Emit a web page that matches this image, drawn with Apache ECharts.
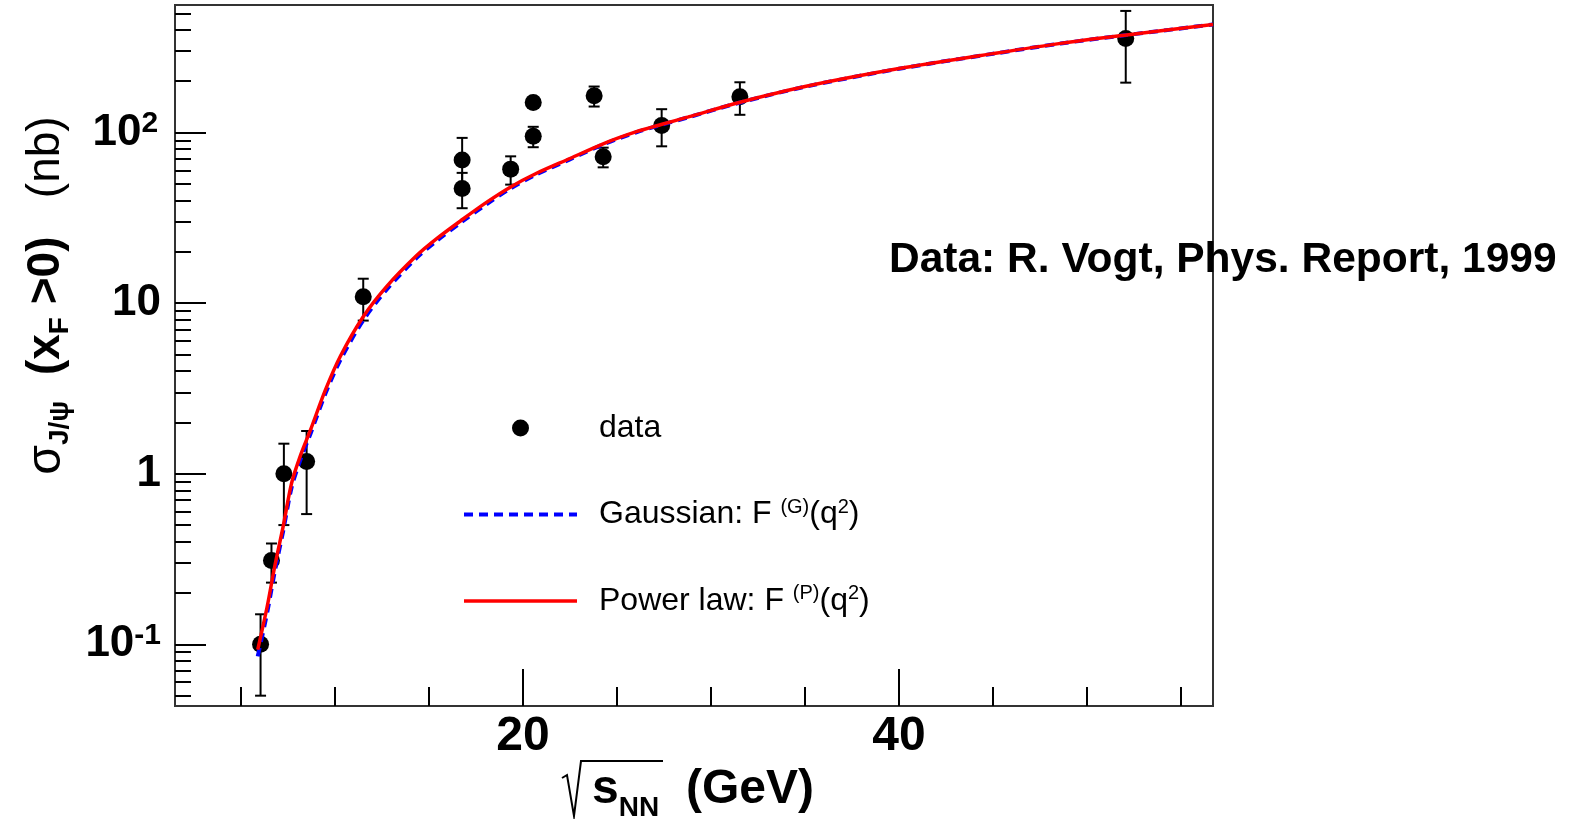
<!DOCTYPE html>
<html><head><meta charset="utf-8">
<script src="https://cdn.jsdelivr.net/npm/echarts@6/dist/echarts.min.js"></script>
<style>html,body{margin:0;padding:0;background:#fff}#c{width:1576px;height:819px}</style>
</head><body><div id="c"></div>
<script>
// ---- data ----
const dataX   = [6.05, 6.63, 7.29, 8.5, 11.51, 16.77, 16.77, 19.35, 20.55, 20.55, 23.79, 24.27, 27.38, 31.54, 52.06];
const dataY   = [0.1, 0.31, 1.0, 1.18, 10.9, 69, 47, 61, 150, 95, 164, 72, 110, 162, 356];
const dataErr = [0.05, 0.08, 0.5, 0.6, 3, 24, 11, 11.5, 10, 13, 22, 9.5, 27, 35, 160];
const curveX   = [5.9, 6.4, 6.8, 7.25, 7.7, 8.15, 8.7, 9.5, 10.3, 11.5, 12.75, 14.35, 15.4, 16.8, 18.1, 19.35, 20.7, 22.5, 24.3, 26.0, 27.4, 28.8, 31.5, 35, 40, 45, 48.6, 52, 56.7];
const powerLaw = [0.093, 0.166, 0.285, 0.49, 0.88, 1.26, 1.8, 3.1, 4.9, 8.3, 12.5, 19.0, 23.8, 31.0, 39.2, 48.0, 57.5, 70.4, 86.2, 100.8, 111.8, 123.4, 150, 186, 237, 290, 333, 372, 430];
const gaussian = [0.085, 0.153, 0.265, 0.46, 0.83, 1.19, 1.71, 2.95, 4.65, 7.9, 12.0, 18.4, 23.1, 30.2, 38.2, 47.0, 56.6, 69.6, 85.3, 100.0, 111.2, 122.8, 149.4, 185.4, 236.4, 289.4, 332.4, 371.5, 429.5];
const xTickLabels = [20, 40];
const xMinorTicks = [5, 10, 15, 20, 25, 30, 35, 40, 45, 50, 55];
const yTickLabels = [0.1, 1, 10, 100];
const yMinorTicks = [0.05, 0.06, 0.07, 0.08, 0.09, 0.2, 0.3, 0.4, 0.5, 0.6, 0.7, 0.8, 0.9, 2, 3, 4, 5, 6, 7, 8, 9, 20, 30, 40, 50, 60, 70, 80, 90, 200, 300, 400, 500];
const legendNames = ['data', 'Gaussian', 'Power law'];
const annotation = 'Data: R. Vogt, Phys. Report, 1999';

const FONT = '"Liberation Sans", Arial, Helvetica, sans-serif';
const X_MIN = 1.5, X_MAX = 56.7, Y_MIN = 0.0435, Y_MAX = 559;

const points = dataX.map((x, i) => [x, dataY[i]]);
const errs = dataX.map((x, i) => [x, dataY[i], dataErr[i]]);
const pl = curveX.map((x, i) => [x, powerLaw[i]]);
const ga = curveX.map((x, i) => [x, gaussian[i]]);

const legendText = {
  'data': '{t|data}',
  'Gaussian': '{t|Gaussian: F }{s|(G)}{t|(q}{s|2}{t|)}',
  'Power law': '{t|Power law: F }{s|(P)}{t|(q}{s|2}{t|)}'
};

const chart = echarts.init(document.getElementById('c'), null, {renderer: 'canvas'});
const tickStyle = {color: '#000', width: 2};

chart.setOption({
  backgroundColor: '#fff',
  animation: false,
  grid: {left: 175, right: 363, top: 5, bottom: 113, outerBoundsMode: 'none', containLabel: false,
         show: true, borderColor: '#333', borderWidth: 2, backgroundColor: 'transparent'},
  xAxis: [{
    type: 'value', min: X_MIN, max: X_MAX, position: 'bottom',
    axisLine: {show: true, lineStyle: {color: '#333', width: 2}},
    splitLine: {show: false},
    axisTick: {show: true, inside: true, length: 37, lineStyle: tickStyle, customValues: xTickLabels},
    axisLabel: {customValues: xTickLabels, margin: 7, fontFamily: FONT, fontWeight: 'bold', fontSize: 48, color: '#000'},
    name: '{s|s}{sub|NN}{b|  (GeV)}',
    nameLocation: 'middle', nameGap: 53,
    nameTextStyle: {
      padding: [0, 0, 0, 18],
      rich: {
        s: {fontFamily: FONT, fontWeight: 'bold', fontSize: 48, color: '#000', lineHeight: 52},
        sub: {fontFamily: FONT, fontWeight: 'bold', fontSize: 28, color: '#000', verticalAlign: 'bottom', lineHeight: 52, padding: [0, 0, -6, 0]},
        b: {fontFamily: FONT, fontWeight: 'bold', fontSize: 48, color: '#000', lineHeight: 52}
      }
    }
  }, {
    type: 'value', min: X_MIN, max: X_MAX, position: 'bottom', offset: 0,
    axisLine: {show: false}, splitLine: {show: false}, axisLabel: {show: false},
    axisTick: {show: true, inside: true, length: 19, lineStyle: tickStyle, customValues: xMinorTicks}
  }],
  yAxis: [{
    type: 'log', min: Y_MIN, max: Y_MAX, position: 'left',
    axisLine: {show: true, lineStyle: {color: '#333', width: 2}},
    splitLine: {show: false}, minorTick: {show: false},
    axisTick: {show: true, inside: true, length: 31, lineStyle: tickStyle, customValues: yTickLabels},
    axisLabel: {
      customValues: yTickLabels, margin: 14,
      formatter: function (v) {
        const e = Math.round(Math.log10(v));
        if (e === 0) return '{n|1}';
        if (e === 1) return '{n|10}';
        if (e > 1) return '{n|10}{p|' + e + '}{q| }';
        return '{n|10}{p|' + e + '}';
      },
      rich: {
        n: {fontFamily: FONT, fontWeight: 'bold', fontSize: 44, color: '#000', lineHeight: 48},
        p: {fontFamily: FONT, fontWeight: 'bold', fontSize: 30, color: '#000', verticalAlign: 'top', lineHeight: 48},
        q: {fontFamily: FONT, fontSize: 10, color: '#000', lineHeight: 48}
      }
    },
    name: '{g|σ}{gs|J/ψ}{b|  (x}{bs|F}{b| >0)}{r|   (nb)}',
    nameLocation: 'middle', nameRotate: 90, nameGap: 78,
    nameTextStyle: {
      padding: [0, 0, 0, 120],
      rich: {
        g: {fontFamily: FONT, fontSize: 48, color: '#000', lineHeight: 56},
        gs: {fontFamily: FONT, fontWeight: 'bold', fontSize: 28, color: '#000', verticalAlign: 'bottom', lineHeight: 56},
        b: {fontFamily: FONT, fontWeight: 'bold', fontSize: 46, color: '#000', lineHeight: 56},
        bs: {fontFamily: FONT, fontWeight: 'bold', fontSize: 28, color: '#000', verticalAlign: 'bottom', lineHeight: 56},
        r: {fontFamily: FONT, fontSize: 46, color: '#000', lineHeight: 56}
      }
    }
  }, {
    type: 'log', min: Y_MIN, max: Y_MAX, position: 'left', offset: 0,
    axisLine: {show: false}, splitLine: {show: false}, axisLabel: {show: false},
    axisTick: {show: true, inside: true, length: 16, lineStyle: tickStyle, customValues: yMinorTicks}
  }],
  legend: {
    orient: 'vertical', left: 462, top: 412, padding: 0,
    itemWidth: 113, itemHeight: 17, itemGap: 53, selectedMode: false,
    data: [
      {name: legendNames[0], icon: 'circle', itemStyle: {color: '#000', opacity: 1}},
      {name: legendNames[1], itemStyle: {opacity: 0}, lineStyle: {color: '#0000ff', width: 4, type: [9, 6]}},
      {name: legendNames[2], itemStyle: {opacity: 0}, lineStyle: {color: '#ff0000', width: 3.5, type: 'solid'}}
    ],
    formatter: name => legendText[name],
    textStyle: {
      padding: [0, 0, 0, 17],
      rich: {
        t: {fontFamily: FONT, fontSize: 32, color: '#000', lineHeight: 35},
        s: {fontFamily: FONT, fontSize: 20, color: '#000', verticalAlign: 'top', lineHeight: 35}
      }
    }
  },
  graphic: [
    {type: 'text', left: 889, top: 239, z: 0,
     style: {text: annotation, fontFamily: FONT, fontWeight: 'bold', fontSize: 42.5, fill: '#000'}},
    {type: 'polyline', z: 10,
     shape: {points: [[562, 778], [567, 775], [574, 816], [581, 761], [663, 761]]},
     style: {stroke: '#000', lineWidth: 2, fill: null}}
  ],
  series: [
    {
      type: 'custom', name: 'errors', xAxisIndex: 0, yAxisIndex: 0, clip: true, z: 2,
      data: errs, encode: {x: 0, y: 1},
      renderItem: function (params, api) {
        const x = api.value(0), y = api.value(1), e = api.value(2);
        const hi = api.coord([x, y + e]);
        const lo = api.coord([x, Math.max(y - e, 1e-6)]);
        const cw = 5.5, st = {stroke: '#000', lineWidth: 2};
        return {type: 'group', children: [
          {type: 'line', shape: {x1: hi[0], y1: hi[1], x2: lo[0], y2: lo[1]}, style: st},
          {type: 'line', shape: {x1: hi[0] - cw, y1: hi[1], x2: hi[0] + cw, y2: hi[1]}, style: st},
          {type: 'line', shape: {x1: lo[0] - cw, y1: lo[1], x2: lo[0] + cw, y2: lo[1]}, style: st}
        ]};
      }
    },
    {
      type: 'scatter', name: legendNames[0], xAxisIndex: 0, yAxisIndex: 0, z: 3,
      data: points, symbol: 'circle', symbolSize: 17, itemStyle: {color: '#000', opacity: 1}
    },
    {
      type: 'line', name: legendNames[1], xAxisIndex: 0, yAxisIndex: 0, z: 4,
      data: ga, symbol: 'none', smooth: 0.3, clip: true,
      lineStyle: {color: '#0000ff', width: 4, type: [9, 6]}, itemStyle: {color: '#0000ff'}
    },
    {
      type: 'line', name: legendNames[2], xAxisIndex: 0, yAxisIndex: 0, z: 5,
      data: pl, symbol: 'none', smooth: 0.3, clip: true,
      lineStyle: {color: '#ff0000', width: 3.5}, itemStyle: {color: '#ff0000'}
    }
  ]
});
</script>
</body></html>
